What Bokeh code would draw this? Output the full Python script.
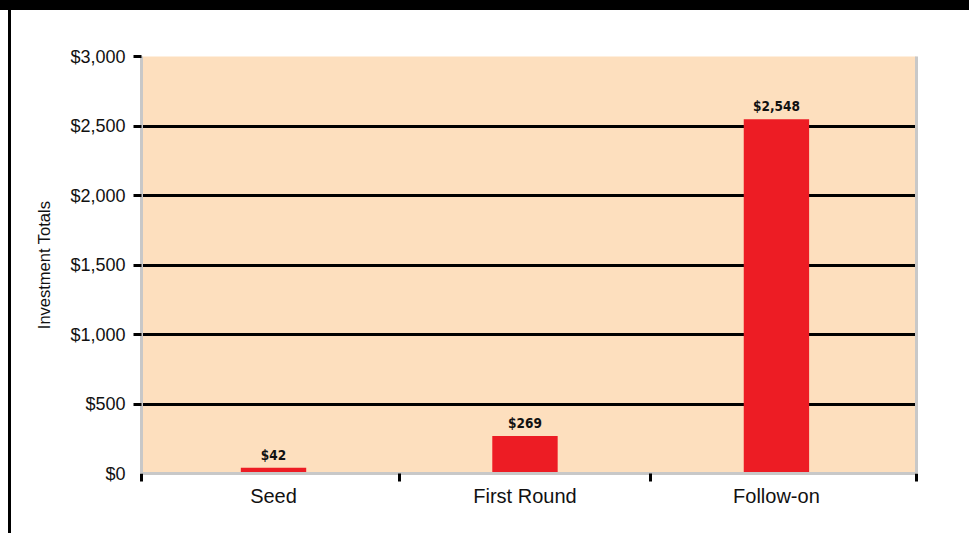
from bokeh.plotting import figure
from bokeh.models import ColumnDataSource, FixedTicker, Range1d, LinearAxis, GlobalInlineStyleSheet
from bokeh.core.properties import value
from bokeh.embed import file_html
from bokeh.resources import INLINE

# Investment totals by round
categories = ["Seed", "First Round", "Follow-on"]
totals = [42, 269, 2548]
value_labels = ["$42", "$269", "$2,548"]

y_ticks = [0, 500, 1000, 1500, 2000, 2500, 3000]
y_tick_labels = ["$0", "$500", "$1,000", "$1,500", "$2,000", "$2,500", "$3,000"]

BAR_RED = "#ED1C24"
PEACH = "#FDDFBE"
GREY = "#C8C8C8"

x_start, x_end = -0.025, 3.057
centers = [i + 0.5 for i in range(len(categories))]
boundaries = [x_start] + [float(i) for i in range(1, len(categories))] + [x_end]

src = ColumnDataSource(dict(x=centers, value=totals, label=value_labels, name=categories))

p = figure(
    width=969, height=533,
    x_range=Range1d(x_start, x_end), y_range=Range1d(0, 3000),
    output_backend="svg", toolbar_location=None,
    min_border_left=141, min_border_right=53, min_border_top=56, min_border_bottom=60,
    background_fill_color=PEACH, border_fill_color="white",
    outline_line_color=None,
)

# page frame: heavy rule across the top, thin rule down the left
page_frame = GlobalInlineStyleSheet(css="""
body::before {
  content: ""; position: fixed; left: 0; top: 0; width: 969px; height: 10px;
  background: #000; z-index: 10;
}
body::after {
  content: ""; position: fixed; left: 8px; top: 0; width: 3px; height: 533px;
  background: #000; z-index: 10;
}
""")
p.stylesheets = [page_frame]

# horizontal gridlines (no line at zero)
p.xgrid.visible = False
p.ygrid.ticker = FixedTicker(ticks=y_ticks[1:])
p.ygrid.grid_line_color = "black"
p.ygrid.grid_line_width = 3

# y axis
ya = p.yaxis[0]
ya.ticker = FixedTicker(ticks=y_ticks, minor_ticks=y_ticks[1:])
ya.major_label_overrides = {t: s for t, s in zip(y_ticks, y_tick_labels)}
ya.major_tick_out = 0
ya.major_tick_in = 0
ya.minor_tick_out = 8
ya.minor_tick_in = 0
ya.minor_tick_line_color = "black"
ya.minor_tick_line_width = 3
ya.axis_line_color = GREY
ya.axis_line_width = 3
ya.major_label_standoff = 8
ya.major_label_text_font = "Liberation Sans"
ya.major_label_text_font_size = "18px"
ya.major_label_text_color = "#111111"
ya.axis_label = "Investment Totals"
ya.axis_label_text_font = "Liberation Sans"
ya.axis_label_text_font_size = "16.5px"
ya.axis_label_text_font_style = "normal"
ya.axis_label_text_color = "#111111"
ya.axis_label_standoff = 14

# x axis: category names centred, tick marks at the boundaries
xa = p.xaxis[0]
xa.ticker = FixedTicker(ticks=centers, minor_ticks=boundaries)
xa.major_label_overrides = {c: n for c, n in zip(centers, categories)}
xa.major_tick_out = 0
xa.major_tick_in = 0
xa.minor_tick_out = 8
xa.minor_tick_in = 0
xa.minor_tick_line_color = "black"
xa.minor_tick_line_width = 3
xa.axis_line_color = GREY
xa.axis_line_width = 3
xa.major_label_standoff = 3
xa.major_label_text_font = "Liberation Sans"
xa.major_label_text_font_size = "20px"
xa.major_label_text_color = "#111111"

# right border
ra = LinearAxis(ticker=FixedTicker(ticks=[]), major_label_text_font_size="0px",
                axis_line_color=GREY, axis_line_width=3)
p.add_layout(ra, "right")

p.vbar(x="x", top="value", width=0.26, source=src, fill_color=BAR_RED, line_color=None)
p.text(x="x", y="value", text="label", source=src,
       text_align="center", text_baseline="bottom", y_offset=-5,
       text_font=value("DejaVu Sans Condensed"), text_font_style="bold",
       text_font_size="13.5px", text_color="#111111")

open("out.html", "w").write(file_html(p, INLINE))
